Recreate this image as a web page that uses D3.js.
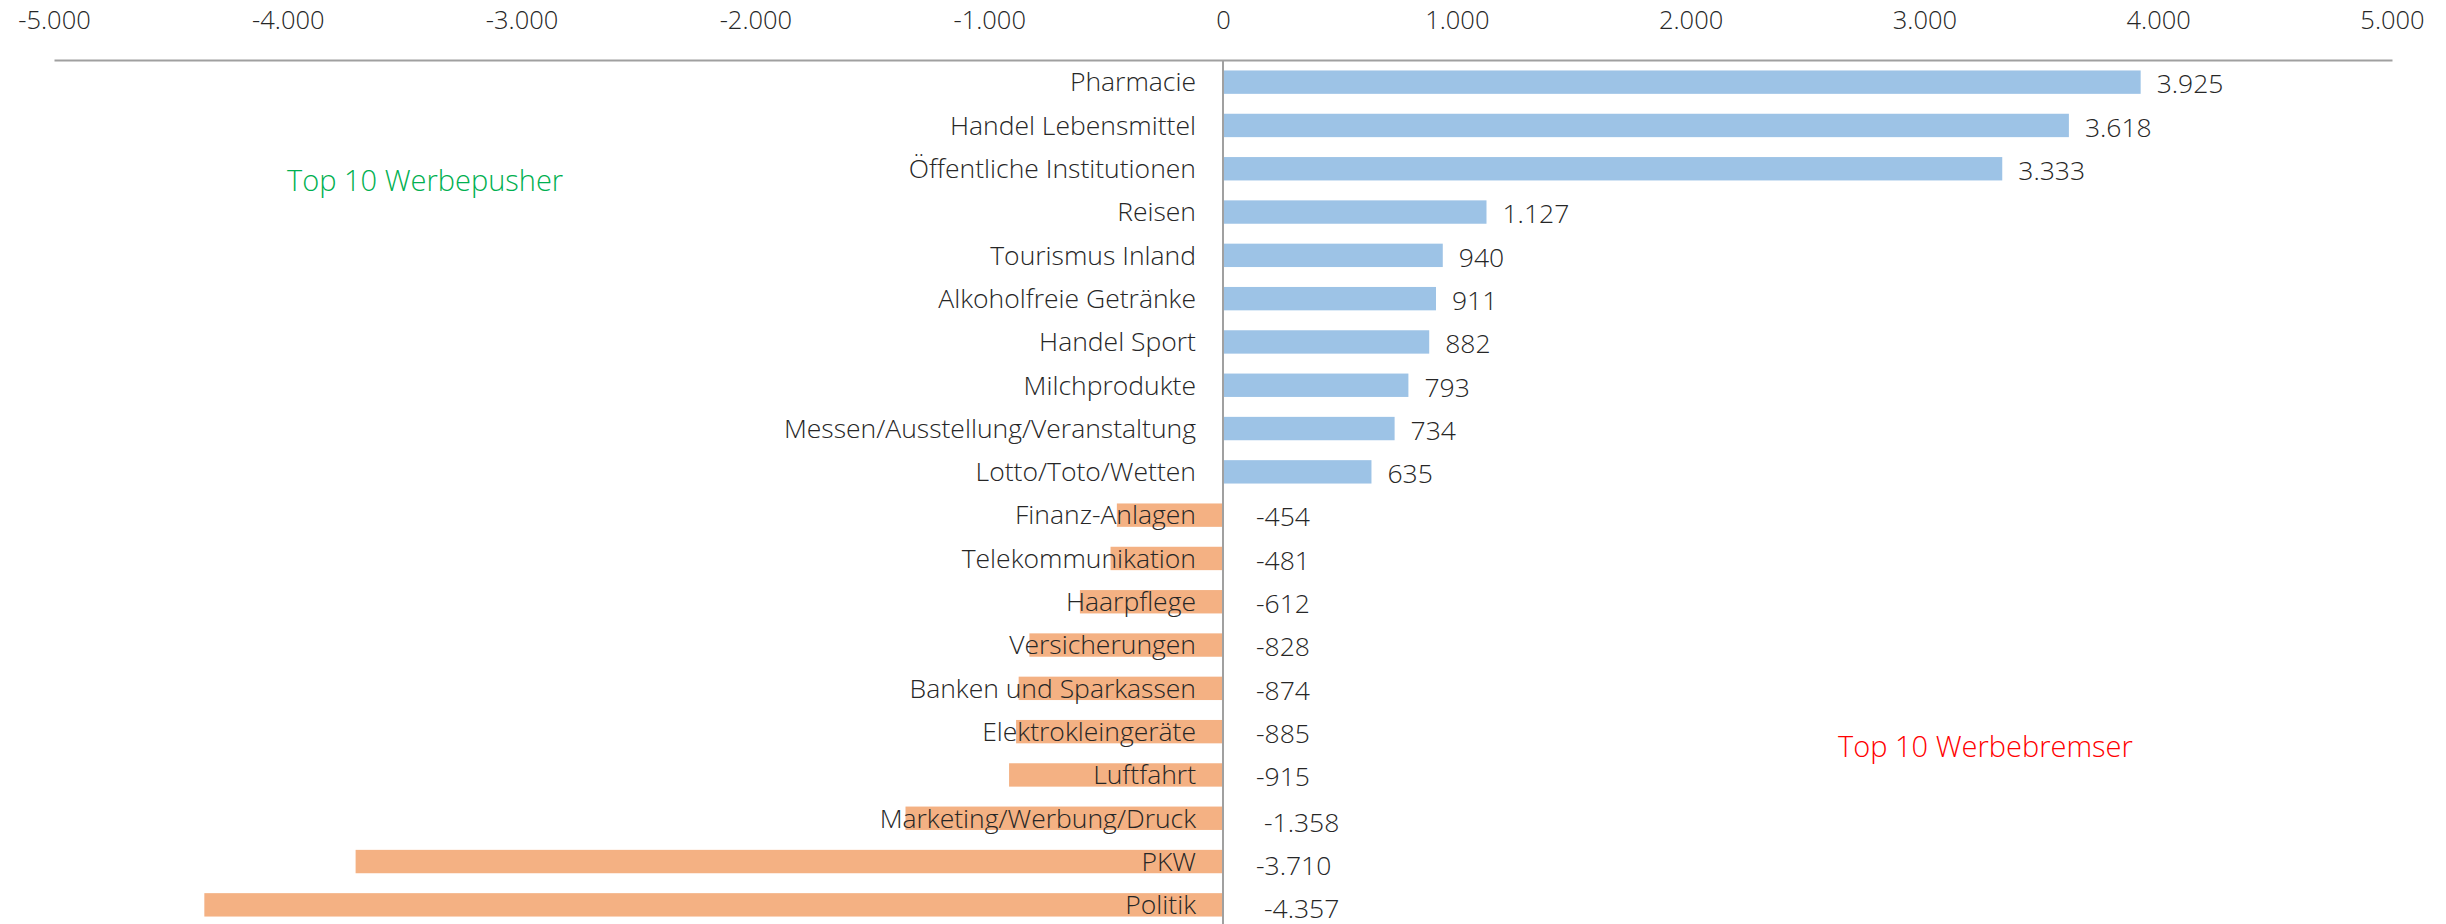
<!DOCTYPE html>
<html>
<head>
<meta charset="utf-8">
<script src="https://cdn.jsdelivr.net/npm/d3@7"></script>
<style>
  body { margin: 0; background: #fff; }
  text { font-family: "Open Sans", sans-serif; font-weight: 300; }
</style>
</head>
<body>
<div id="chart"></div>
<script>
var categories = ['Pharmacie', 'Handel Lebensmittel', 'Öffentliche Institutionen', 'Reisen',
    'Tourismus Inland', 'Alkoholfreie Getränke', 'Handel Sport', 'Milchprodukte',
    'Messen/Ausstellung/Veranstaltung', 'Lotto/Toto/Wetten', 'Finanz-Anlagen',
    'Telekommunikation', 'Haarpflege', 'Versicherungen', 'Banken und Sparkassen',
    'Elektrokleingeräte', 'Luftfahrt', 'Marketing/Werbung/Druck', 'PKW', 'Politik'];
var values = [3925, 3618, 3333, 1127, 940, 911, 882, 793, 734, 635,
    -454, -481, -612, -828, -874, -885, -915, -1358, -3710, -4357];
var tickValues = [-5000, -4000, -3000, -2000, -1000, 0, 1000, 2000, 3000, 4000, 5000];

var width = 2446;
var height = 924;

var de = d3.formatLocale({decimal: ',', thousands: '.', grouping: [3], currency: ['', ' €'], minus: '-'});
var fmt = de.format(',d');

var data = categories.map(function(c, i){
    return {name: c, value: values[i]};
});

var svg = d3.select('#chart')
    .append('svg')
    .attr('width', width)
    .attr('height', height);

var x = d3.scaleLinear()
    .domain([-5000, 5000])
    .range([54, 2392]);

var y = d3.scaleBand()
    .domain(categories)
    .range([60.5, 926.5])
    .paddingInner(0.46)
    .paddingOuter(0.23);

// top axis
var axis = svg.append('g')
    .attr('transform', 'translate(0,60)')
    .call(d3.axisTop(x).tickValues(tickValues).tickSize(0).tickPadding(0).tickFormat(fmt));
axis.select('.domain').attr('stroke', '#a0a0a0').attr('stroke-width', 2);
axis.selectAll('.tick text')
    .attr('y', -31)
    .attr('dy', 0)
    .attr('fill', '#262626')
    .style('font-size', '25.5px');

// bars
svg.selectAll('rect.bar')
    .data(data)
    .enter()
    .append('rect')
    .attr('class', 'bar')
    .attr('x', function(d){ return x(Math.min(0, d.value)); })
    .attr('y', function(d){ return y(d.name); })
    .attr('width', function(d){ return Math.abs(x(d.value) - x(0)); })
    .attr('height', y.bandwidth())
    .attr('fill', function(d){ return d.value >= 0 ? '#9dc3e6' : '#f4b183'; });

// zero line
svg.append('line')
    .attr('x1', x(0))
    .attr('x2', x(0))
    .attr('y1', 60)
    .attr('y2', height)
    .attr('stroke', '#a0a0a0')
    .attr('stroke-width', 2);

// category labels
svg.selectAll('text.cat')
    .data(data)
    .enter()
    .append('text')
    .attr('class', 'cat')
    .attr('x', x(0) - 27)
    .attr('y', function(d){ return y(d.name) + y.bandwidth() / 2; })
    .attr('dy', '0.35em')
    .attr('text-anchor', 'end')
    .attr('fill', '#262626')
    .style('font-size', '26.5px')
    .text(function(d){ return d.name; });

// value labels
svg.selectAll('text.val')
    .data(data)
    .enter()
    .append('text')
    .attr('class', 'val')
    .attr('x', function(d, i){ return d.value >= 0 ? x(d.value) + 16 : x(0) + (i > 16 && i !== 18 ? 41 : 33); })
    .attr('y', function(d, i){ return y(d.name) + y.bandwidth() / 2 + 2 + (i > 16 ? 2 : 0); })
    .attr('dy', '0.35em')
    .attr('fill', '#262626')
    .style('font-size', '26.5px')
    .text(function(d){ return fmt(d.value); });

svg.append('text')
    .attr('x', 287)
    .attr('y', 191)
    .attr('fill', '#00b050')
    .style('font-size', '29px')
    .text('Top 10 Werbepusher');

svg.append('text')
    .attr('x', 1838)
    .attr('y', 757)
    .attr('fill', '#ff0000')
    .style('font-size', '29px')
    .text('Top 10 Werbebremser');
</script>
</body>
</html>
